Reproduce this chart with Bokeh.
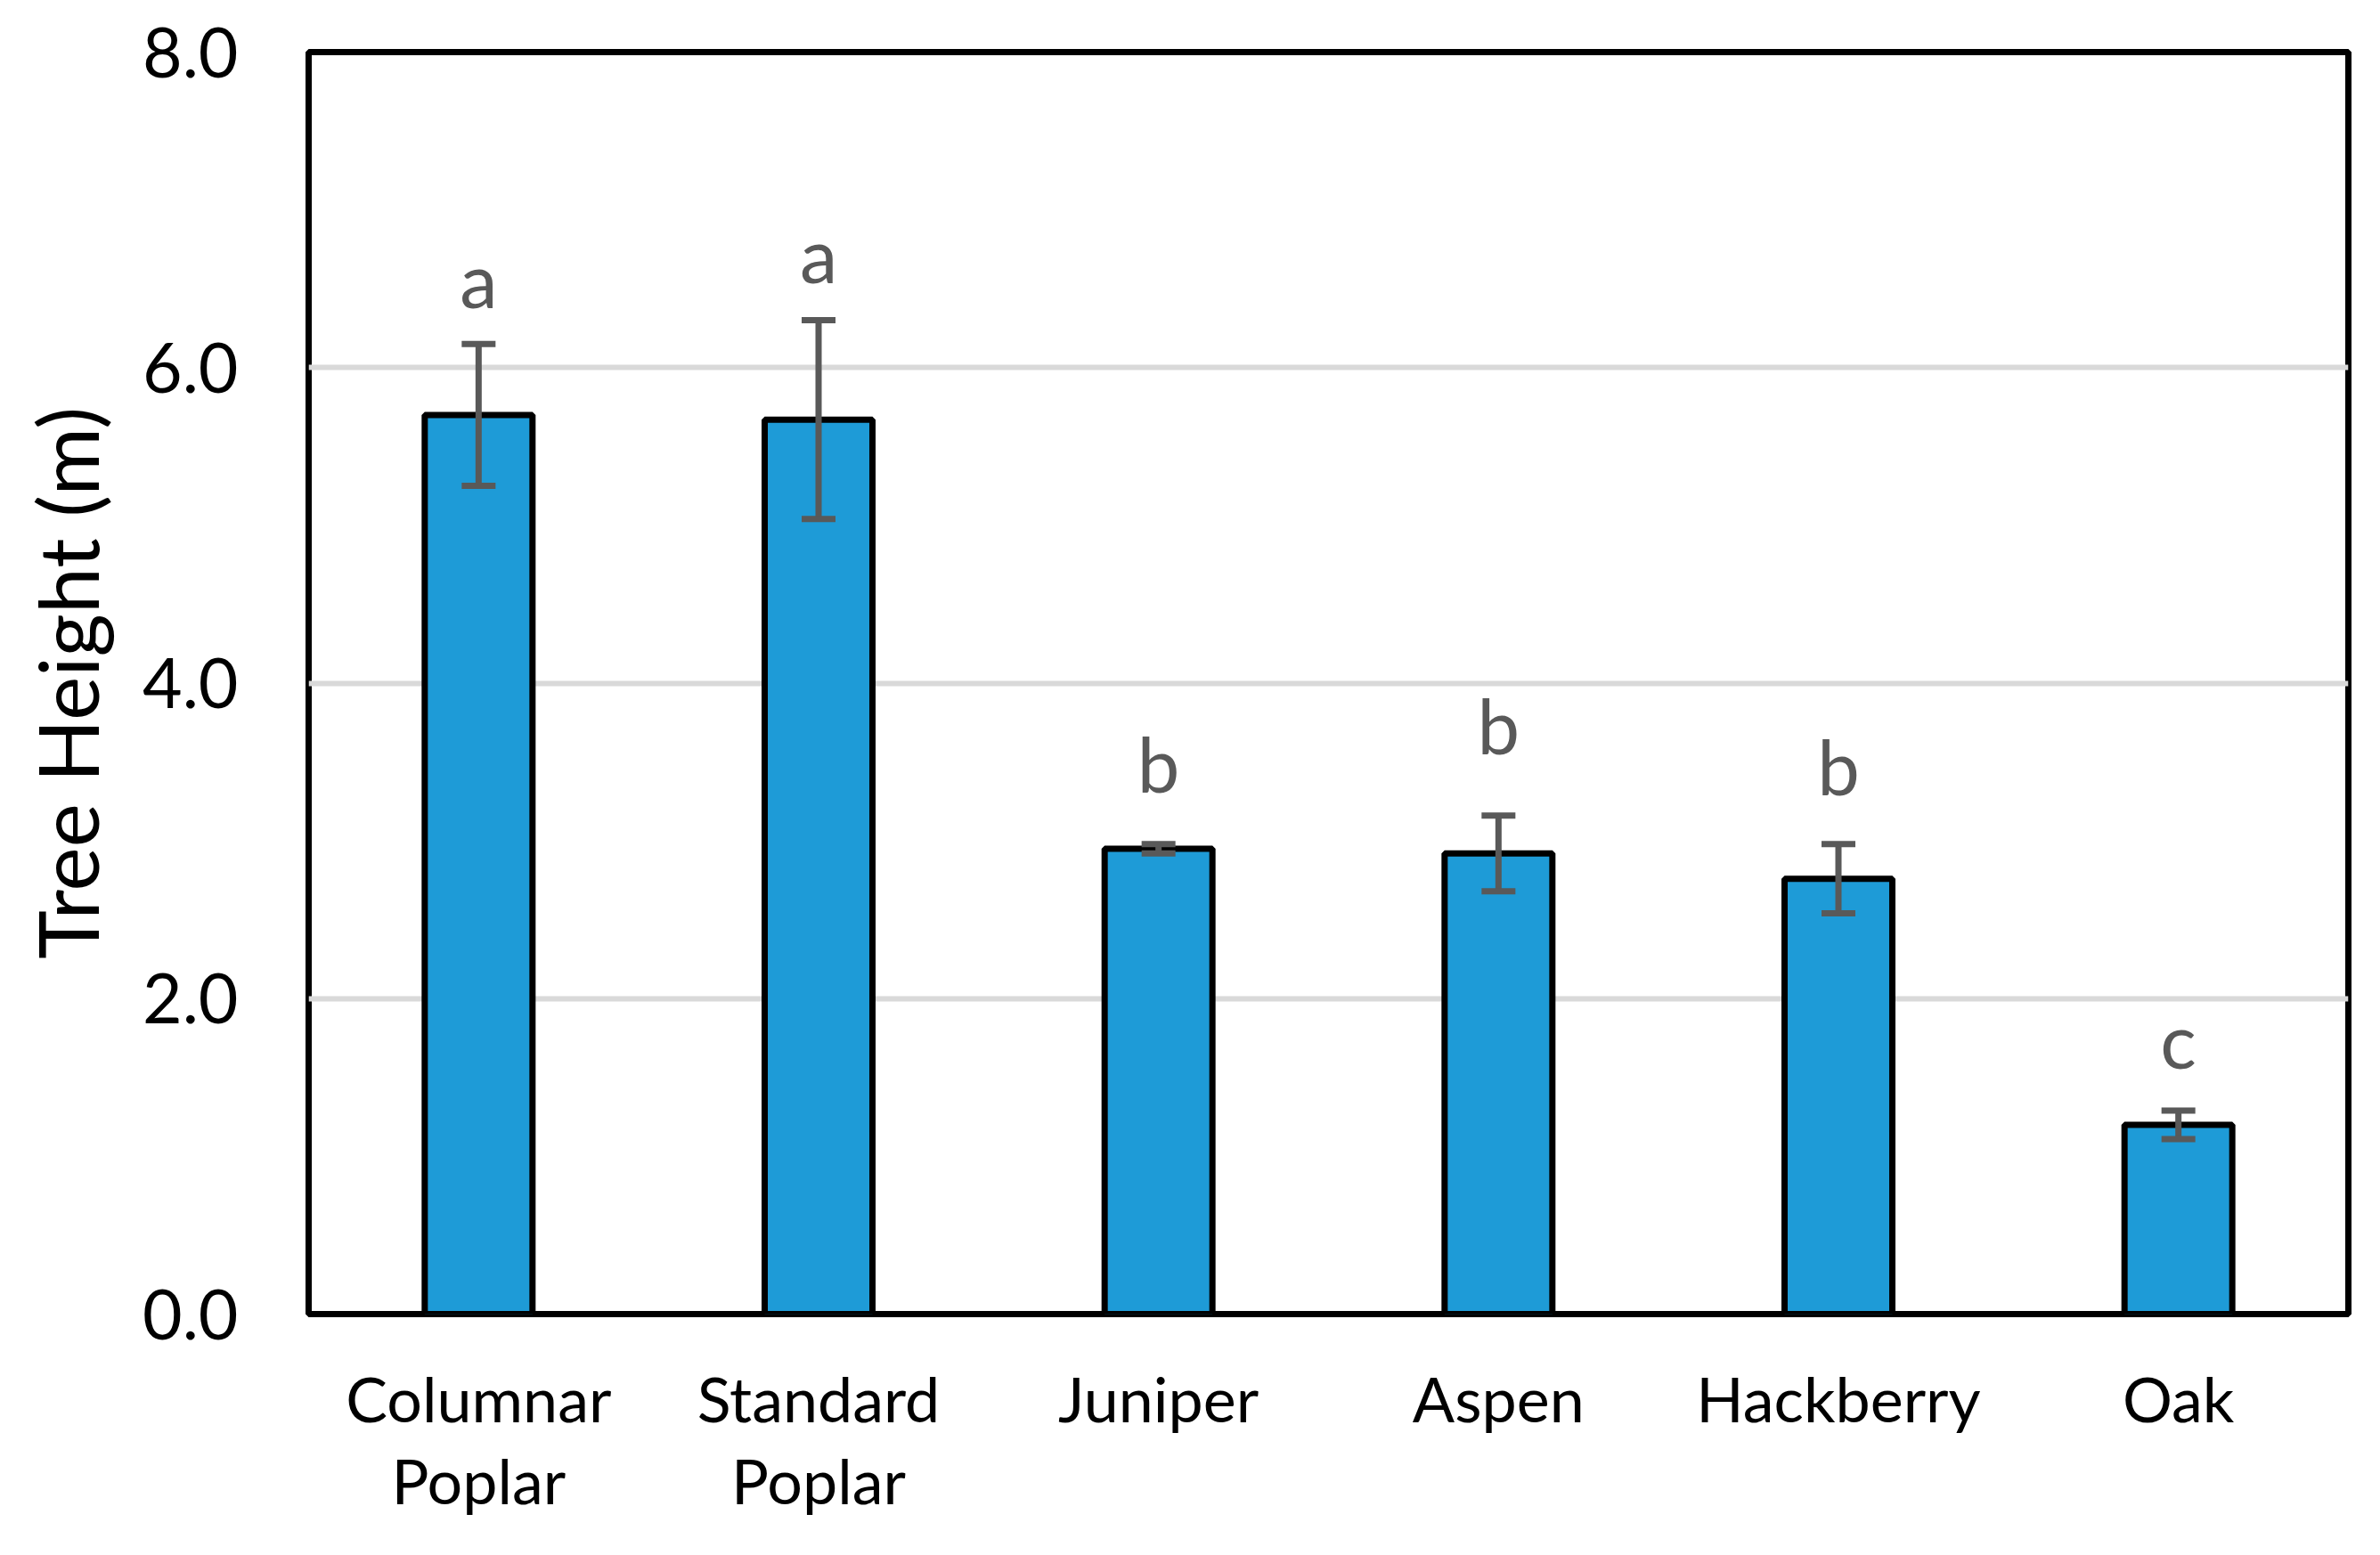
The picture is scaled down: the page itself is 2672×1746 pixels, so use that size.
from bokeh.plotting import figure
from bokeh.models import (ColumnDataSource, FixedTicker, PrintfTickFormatter, Whisker, TeeHead,
                          FactorRange, Range1d)
from bokeh.core.properties import value
from bokeh.embed import file_html
from bokeh.resources import INLINE

# ---- data ----
species = ["Columnar\nPoplar", "Standard\nPoplar", "Juniper", "Aspen", "Hackberry", "Oak"]
height_m = [5.70, 5.67, 2.95, 2.92, 2.76, 1.20]
std_err = [0.45, 0.63, 0.03, 0.24, 0.22, 0.09]
group_letters = ["a", "a", "b", "b", "b", "c"]
letter_y = [6.40, 6.56, 3.33, 3.57, 3.31, 1.58]
y_ticks = [0, 2, 4, 6, 8]

FONT = "Lato"

src = ColumnDataSource(dict(
    species=species,
    height=height_m,
    upper=[h + e for h, e in zip(height_m, std_err)],
    lower=[h - e for h, e in zip(height_m, std_err)],
    letter=group_letters,
    letter_y=letter_y,
))

p = figure(
    width=2656, height=1730,
    x_range=FactorRange(factors=species, range_padding=0),
    y_range=Range1d(0, 8),
    output_backend="svg", toolbar_location=None,
    min_border_left=346, min_border_right=20, min_border_top=58, min_border_bottom=255,
)
p.background_fill_color = "white"
p.border_fill_color = "white"
p.outline_line_color = "black"
p.outline_line_width = 7

p.vbar(x="species", top="height", width=0.317, source=src,
       fill_color="#1E9BD7", line_color="black", line_width=7)

err = Whisker(source=src, base="species", upper="upper", lower="lower",
              line_color="#595959", line_width=7, level="overlay",
              upper_head=TeeHead(size=38, line_color="#595959", line_width=7),
              lower_head=TeeHead(size=38, line_color="#595959", line_width=7))
p.add_layout(err)

p.text(x="species", y="letter_y", text="letter", source=src,
       text_align="center", text_baseline="alphabetic", y_offset=-29,
       text_font=value(FONT), text_font_size="85px", text_color="#595959")

# grid
p.xgrid.grid_line_color = None
p.ygrid.ticker = FixedTicker(ticks=y_ticks)
p.ygrid.grid_line_color = "#D9D9D9"
p.ygrid.grid_line_width = 6

# y axis
yax = p.yaxis[0]
yax.ticker = FixedTicker(ticks=y_ticks)
yax.formatter = PrintfTickFormatter(format="%.1f")
yax.axis_line_color = None
yax.major_tick_line_color = None
yax.minor_tick_line_color = None
yax.major_tick_out = 0
yax.major_tick_in = 0
yax.major_label_standoff = 79
yax.major_label_text_font = FONT
yax.major_label_text_font_size = "77px"
yax.major_label_text_color = "black"
yax.axis_label = "Tree Height (m)"
yax.axis_label_text_font = FONT
yax.axis_label_text_font_size = "93px"
yax.axis_label_text_font_style = "normal"
yax.axis_label_text_color = "black"
yax.axis_label_standoff = 26

# x axis
xax = p.xaxis[0]
xax.axis_line_color = None
xax.major_tick_line_color = None
xax.minor_tick_line_color = None
xax.major_tick_out = 0
xax.major_tick_in = 0
xax.major_label_standoff = 52
xax.major_label_text_font = FONT
xax.major_label_text_font_size = "70px"
xax.major_label_text_line_height = 1.1
xax.major_label_text_color = "black"

open("out.html", "w").write(file_html(p, INLINE))
